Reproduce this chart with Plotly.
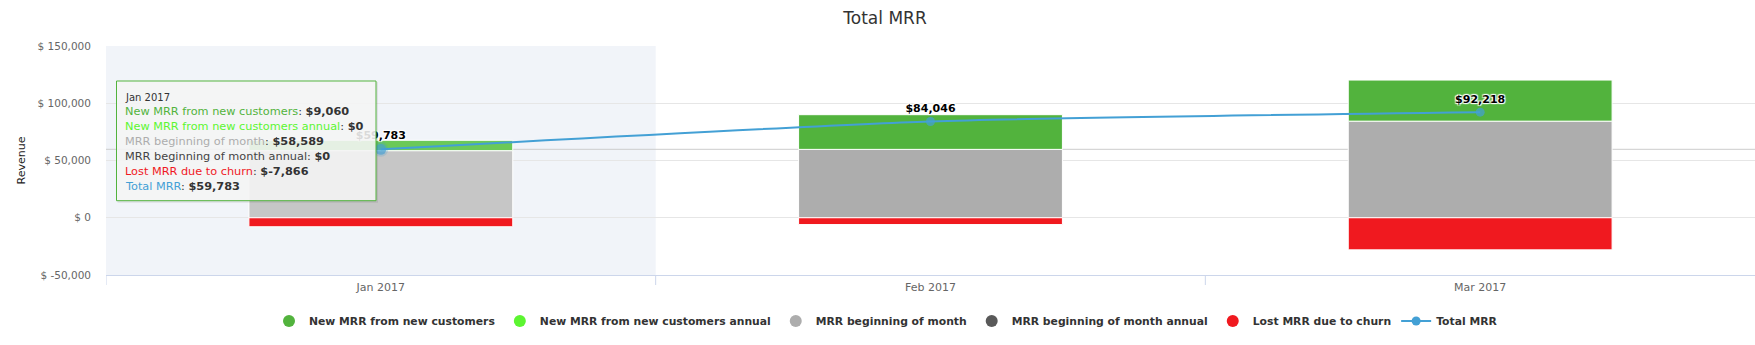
import plotly.graph_objects as go

# ---------------- data ----------------
categories = ["Jan 2017", "Feb 2017", "Mar 2017"]
new_mrr = [9060, 30300, 35910]
new_mrr_annual = [0, 0, 0]
mrr_begin = [58589, 59700, 84350]
mrr_begin_annual = [0, 0, 0]
lost_mrr = [-7866, -5954, -28042]
total_mrr = [59783, 84046, 92218]
total_labels = ["$59,783", "$84,046", "$92,218"]

y_tickvals = [-50000, 0, 50000, 100000, 150000]
y_ticktext = ["$ -50,000", "$ 0", "$ 50,000", "$ 100,000", "$ 150,000"]

series_names = ["New MRR from new customers", "New MRR from new customers annual",
                "MRR beginning of month", "MRR beginning of month annual",
                "Lost MRR due to churn", "Total MRR"]

tooltip_header = "Jan 2017"
tooltip_values = ["$9,060", "$0", "$58,589", "$0", "$-7,866", "$59,783"]

# ---------------- style ----------------
C_GREEN = "#52b33d"
C_GREEN_A = "#5cf531"
C_GRAY = "#adadad"
C_GRAY_A = "#595959"
C_RED = "#f0191f"
C_BLUE = "#43a0d5"
FONT = "DejaVu Sans"

W, H = 1755, 345
ML, MR, MT, MB = 106, 0, 46, 70
PW, PH = W - ML - MR, H - MT - MB


def px_x(x):
    return (x - ML) / PW


def px_y(y):
    return (H - MB - y) / PH


fig = go.Figure()

# stacked bars (bottom -> top)
fig.add_trace(go.Bar(x=categories, y=mrr_begin_annual, name=series_names[3], marker_color=C_GRAY_A,
                     marker_line_width=0, showlegend=False, width=0.48))
fig.add_trace(go.Bar(x=categories, y=mrr_begin, name=series_names[2],
                     marker_color=["#c6c6c6", C_GRAY, C_GRAY],
                     marker_line_color="white", marker_line_width=1, showlegend=False, width=0.48))
fig.add_trace(go.Bar(x=categories, y=new_mrr_annual, name=series_names[1], marker_color=C_GREEN_A,
                     marker_line_width=0, showlegend=False, width=0.48))
fig.add_trace(go.Bar(x=categories, y=new_mrr, name=series_names[0],
                     marker_color=["#6bc957", C_GREEN, C_GREEN],
                     marker_line_color="white", marker_line_width=1, showlegend=False, width=0.48))
fig.add_trace(go.Bar(x=categories, y=lost_mrr, name=series_names[4], marker_color=C_RED,
                     marker_line_color="white", marker_line_width=1, showlegend=False, width=0.48))

# line
fig.add_trace(go.Scatter(x=categories, y=total_mrr, name=series_names[5], mode="lines+markers+text",
                         line=dict(color=C_BLUE, width=2, shape="spline", smoothing=0.6),
                         marker=dict(size=[11, 9, 9], color=C_BLUE,
                                     line=dict(width=[4, 0, 0], color="rgba(67,160,213,0.3)")),
                         text=total_labels, textposition="top center",
                         textfont=dict(family=FONT, size=11, color="#000000", weight="bold",
                                       shadow="1px 1px 1px #fff, -1px -1px 1px #fff, 1px -1px 1px #fff, -1px 1px 1px #fff"),
                         showlegend=False, cliponaxis=False))

# legend-only entries
legend_colors = [C_GREEN, C_GREEN_A, C_GRAY, C_GRAY_A, C_RED]
for nm, col in zip(series_names[:5], legend_colors):
    fig.add_trace(go.Scatter(x=[None], y=[None], name=nm, mode="markers",
                             marker=dict(symbol="circle", size=12, color=col)))
fig.add_trace(go.Scatter(x=[None], y=[None], name=series_names[5], mode="lines+markers",
                         line=dict(color=C_BLUE, width=2), marker=dict(size=9, color=C_BLUE)))

shapes = [
    # hover band
    dict(type="rect", xref="x", yref="paper", x0=-0.5, x1=0.5, y0=0, y1=1,
         fillcolor="#f1f4f9", line_width=0, layer="below"),
    # crosshair
    dict(type="line", xref="paper", yref="y", x0=0, x1=1, y0=total_mrr[0], y1=total_mrr[0],
         line=dict(color="#cccccc", width=1), layer="between"),
]
# tick marks at category boundaries
for b in [-0.5, 0.5, 1.5]:
    shapes.append(dict(type="line", xref="x", yref="paper", x0=b, x1=b, y0=0, y1=-10 / PH,
                       line=dict(color="#ccd6eb", width=1), layer="above"))
# tooltip box (shadow + box)
tx0, tx1, ty0, ty1 = 116.5, 376, 81, 200.7
shapes.append(dict(type="rect", xref="paper", yref="paper",
                   x0=px_x(tx0 + 1), x1=px_x(tx1 + 2), y0=px_y(ty1 + 2), y1=px_y(ty0 + 1),
                   fillcolor="rgba(0,0,0,0.08)", line_width=0, layer="above"))
shapes.append(dict(type="rect", xref="paper", yref="paper",
                   x0=px_x(tx0), x1=px_x(tx1), y0=px_y(ty1), y1=px_y(ty0),
                   fillcolor="rgba(247,247,247,0.88)", line=dict(color=C_GREEN, width=1), layer="above"))

annotations = []
# y axis title
annotations.append(dict(text="Revenue", xref="paper", yref="paper", x=px_x(21), y=px_y(160.5),
                        textangle=-90, showarrow=False, font=dict(family=FONT, size=11, color="#222222"),
                        xanchor="center", yanchor="middle"))
# tooltip lines
annotations.append(dict(text=tooltip_header, xref="paper", yref="paper", x=px_x(123), y=px_y(97),
                        showarrow=False, xanchor="left", yanchor="middle",
                        font=dict(family=FONT, size=10, color="#333333")))
tip_colors = [C_GREEN, "#5cf531", "#adadad", "#444444", C_RED, C_BLUE]
for i, (nm, val, col) in enumerate(zip(series_names, tooltip_values, tip_colors)):
    txt = f'<span style="color:{col}">{nm}</span>: <b>{val}</b>'
    annotations.append(dict(text=txt, xref="paper", yref="paper", x=px_x(123), y=px_y(111.7 + 15 * i),
                            showarrow=False, xanchor="left", yanchor="middle",
                            font=dict(family=FONT, size=11.3, color="#333333")))

fig.update_layout(
    width=W, height=H,
    margin=dict(l=ML, r=MR, t=MT, b=MB, autoexpand=False),
    paper_bgcolor="white", plot_bgcolor="white",
    barmode="relative", bargap=0.52,
    title=dict(text="Total MRR", x=885 / W, xref="container", xanchor="center",
               y=1 - 18 / H, yref="container", yanchor="middle",
               font=dict(family=FONT, size=17, color="#333333")),
    xaxis=dict(type="category", range=[-0.5, 2.5], showgrid=False, showline=True,
               linecolor="#ccd6eb", linewidth=1, ticks="", zeroline=False,
               tickfont=dict(family=FONT, size=11, color="#666666"), ticklabelstandoff=2),
    yaxis=dict(range=[-50000, 150000], tickvals=y_tickvals, ticktext=y_ticktext,
               showgrid=True, gridcolor="#e6e6e6", gridwidth=1, zeroline=False,
               tickfont=dict(family=FONT, size=10.5, color="#666666"), ticklabelstandoff=14),
    legend=dict(orientation="h", xref="container", x=886 / W, xanchor="center",
                yref="container", y=1 - 321 / H, yanchor="middle",
                font=dict(family=FONT, size=10.8, color="#333333", weight="bold"),
                itemclick=False, traceorder="normal"),
    shapes=shapes, annotations=annotations,
    hovermode=False,
)

fig.write_html("out.html")
